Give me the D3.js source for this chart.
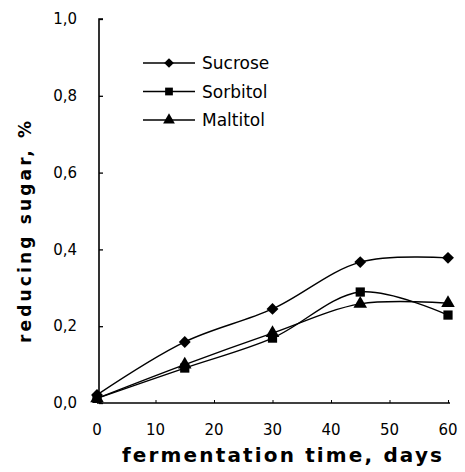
<!DOCTYPE html>
<html><head><meta charset="utf-8">
<script src="https://cdn.jsdelivr.net/npm/d3@7"></script>
<style>body{margin:0;background:#fff}svg{display:block}</style>
</head><body>
<script>
const days = [0, 15, 30, 45, 60];
const sucrose = [0.021, 0.159, 0.245, 0.367, 0.378];
const sorbitol = [0.012, 0.091, 0.169, 0.289, 0.229];
const maltitol = [0.012, 0.100, 0.182, 0.258, 0.260];
const seriesNames = ["Sucrose", "Sorbitol", "Maltitol"];
const xTicks = [0, 10, 20, 30, 40, 50, 60];
const yTicks = [0, 0.2, 0.4, 0.6, 0.8, 1.0];

const W = 465, H = 472;
const svg = d3.select("body").append("svg").attr("width", W).attr("height", H);
const x = d3.scaleLinear().domain([0, 60]).range([97, 448]);
const y = d3.scaleLinear().domain([0, 1]).range([403, 19]);
const font = "'DejaVu Sans', sans-serif";

// axes
const ya = svg.append("g").attr("transform", `translate(${x(0)+2},0)`)
  .call(d3.axisRight(y).tickValues(yTicks).tickSize(4).tickFormat(""));
ya.select(".domain").attr("d", `M4,${y(1)}H0V${y(0)}`).attr("stroke-width", 1.6);
ya.selectAll(".tick line").attr("stroke-width", 1.3);
const xa = svg.append("g").attr("transform", `translate(0,${y(0)})`)
  .call(d3.axisTop(x).tickValues(xTicks).tickSize(3).tickFormat(""));
xa.select(".domain").attr("d", `M${x(0)},0H${x(60)+2}`).attr("stroke-width", 1.6);
xa.selectAll(".tick line").attr("stroke-width", 1);

svg.append("g").selectAll("text").data(yTicks).join("text")
  .attr("x", 77).attr("y", d => y(d)).attr("dy", "0.35em")
  .attr("text-anchor", "end").attr("font-family", font).attr("font-size", 15)
  .text(d => d3.format(".1f")(d).replace(".", ","));
svg.append("g").selectAll("text").data(xTicks).join("text")
  .attr("x", d => x(d)).attr("y", 430).attr("dy", "0.35em")
  .attr("text-anchor", "middle").attr("font-family", font).attr("font-size", 15)
  .text(d => d);

svg.append("text").attr("x", 282).attr("y", 462)
  .attr("text-anchor", "middle").attr("font-family", font).attr("font-weight", "bold")
  .attr("font-size", 20).attr("textLength", 320).attr("lengthAdjust", "spacing")
  .text("fermentation time, days");
svg.append("text").attr("transform", `translate(31,232) rotate(-90)`)
  .attr("text-anchor", "middle").attr("font-family", font).attr("font-weight", "bold")
  .attr("font-size", 17).attr("textLength", 222).attr("lengthAdjust", "spacing")
  .text("reducing sugar, %");

const series = [
  {name: seriesNames[0], values: sucrose, sym: d3.symbolDiamond2, size: 90},
  {name: seriesNames[1], values: sorbitol, sym: d3.symbolSquare, size: 85},
  {name: seriesNames[2], values: maltitol, sym: d3.symbolTriangle, size: 80}
];
const line = d3.line().x(d => x(d[0])).y(d => y(d[1])).curve(d3.curveCatmullRom.alpha(0.5));
series.forEach(s => {
  const pts = days.map((d, i) => [d, s.values[i]]);
  svg.append("path").datum(pts).attr("d", line)
    .attr("fill", "none").attr("stroke", "#000").attr("stroke-width", 1.4);
  svg.append("g").selectAll("path").data(pts).join("path")
    .attr("transform", d => `translate(${x(d[0])},${y(d[1])})`)
    .attr("d", d3.symbol().type(s.sym).size(s.size)).attr("fill", "#000");
});

// legend
const lg = svg.append("g");
series.forEach((s, i) => {
  const ly = 63 + i * 28.5;
  lg.append("line").attr("x1", 143).attr("x2", 195).attr("y1", ly).attr("y2", ly)
    .attr("stroke", "#000").attr("stroke-width", 1.4);
  lg.append("path").attr("transform", `translate(169,${ly})`)
    .attr("d", d3.symbol().type(s.sym).size(60)).attr("fill", "#000");
  lg.append("text").attr("x", 202).attr("y", ly).attr("dy", "0.36em")
    .attr("font-family", font).attr("font-size", 17).text(s.name);
});
</script>
</body></html>
